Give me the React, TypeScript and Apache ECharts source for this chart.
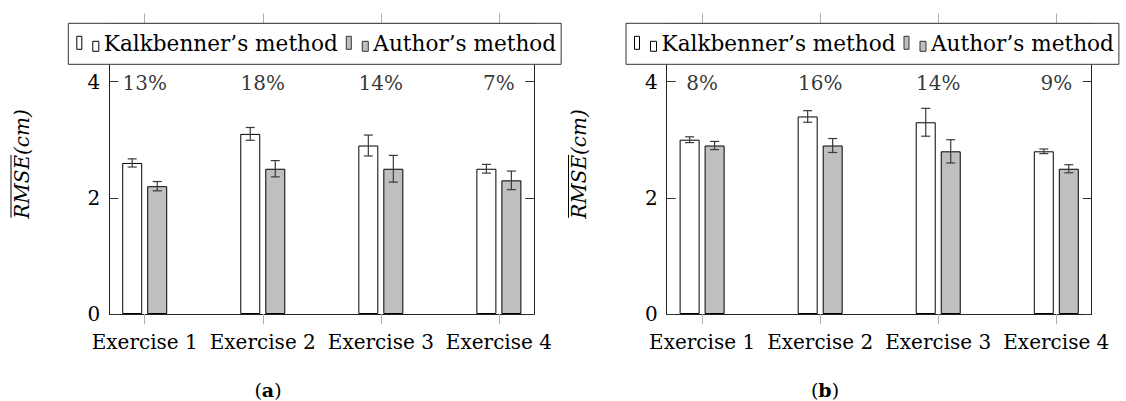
import React, { useEffect, useRef } from 'react';
import * as echarts from 'echarts';

const categories = ['Exercise 1', 'Exercise 2', 'Exercise 3', 'Exercise 4'];
const yTicks = [0, 2, 4];
const seriesNames = ['Kalkbenner’s method', 'Author’s method'];

const kalkA = [2.6, 3.1, 2.9, 2.5];
const kalkAErr = [0.07, 0.11, 0.18, 0.075];
const authA = [2.2, 2.5, 2.5, 2.3];
const authAErr = [0.08, 0.14, 0.23, 0.16];
const pctA = ['13%', '18%', '14%', '7%'];

const kalkB = [3.0, 3.4, 3.3, 2.8];
const kalkBErr = [0.05, 0.1, 0.24, 0.04];
const authB = [2.9, 2.9, 2.8, 2.5];
const authBErr = [0.07, 0.12, 0.2, 0.07];
const pctB = ['8%', '16%', '14%', '9%'];

const PCT_LEVEL = 4;

const FONT = "'DejaVu Serif', serif";
const FS = 20;
const LEG_FS = 21.6;
const BAR_W = 20;
const BAR_GAP = 5;
const OFF = (BAR_W + BAR_GAP) / 2;
const GRAY = '#bfbfbf';

const panels = [
  { key: 'a', kalk: kalkA, kalkErr: kalkAErr, auth: authA, authErr: authAErr, pct: pctA,
    gridLeft: 109.3, legendLeft: 68.3, titleX: 21.5, capX: 268 },
  { key: 'b', kalk: kalkB, kalkErr: kalkBErr, auth: authB, authErr: authBErr, pct: pctB,
    gridLeft: 666.7, legendLeft: 626, titleX: 579, capX: 825 },
];

function measure(text: string, font: string): number {
  const c = document.createElement('canvas').getContext('2d');
  if (!c) return text.length * 10;
  c.font = font;
  return c.measureText(text).width;
}

export default function App() {
  const ref = useRef<HTMLDivElement>(null);
  useEffect(() => {
    if (!ref.current) return;
    const chart = echarts.init(ref.current, undefined, { renderer: 'svg' });
    const tickVals = categories.map((_, i) => i + 1);
    const grid: any[] = [];
    const xAxis: any[] = [];
    const yAxis: any[] = [];
    const series: any[] = [];
    const legend: any[] = [];
    const graphic: any[] = [];
    const titleFont = `italic ${FS}px 'DejaVu Serif'`;
    const fullW = measure('RMSE(cm)', titleFont);
    const partW = measure('RMSE', titleFont);

    const errSeries = (vals: number[], errs: number[], off: number, idx: number) => ({
      type: 'custom',
      xAxisIndex: idx * 2,
      yAxisIndex: idx * 2,
      z: 5,
      silent: true,
      data: vals.map((v, i) => [i + 1, v, errs[i]]),
      renderItem: (params: any, api: any) => {
        const x = api.value(0);
        const v = api.value(1);
        const e = api.value(2);
        const hi = api.coord([x, v + e]);
        const lo = api.coord([x, v - e]);
        const cx = hi[0] + off;
        const st = { stroke: '#3a3a3a', lineWidth: 1.2 };
        return {
          type: 'group',
          children: [
            { type: 'line', shape: { x1: cx, y1: hi[1], x2: cx, y2: lo[1] }, style: st },
            { type: 'line', shape: { x1: cx - 4.5, y1: hi[1], x2: cx + 4.5, y2: hi[1] }, style: st },
            { type: 'line', shape: { x1: cx - 4.5, y1: lo[1], x2: cx + 4.5, y2: lo[1] }, style: st },
          ],
        };
      },
    });

    panels.forEach((p, idx) => {
      grid.push({ left: p.gridLeft, top: 23.5, width: 425, height: 290.5 });
      const axisLine = { show: true, onZero: false, lineStyle: { color: '#222', width: 1 } };
      xAxis.push({
        type: 'value', gridIndex: idx, min: 0.7, max: 4.3, position: 'bottom',
        axisLine,
        axisTick: { show: true, customValues: tickVals, length: 10, lineStyle: { color: '#b0b0b0' } },
        axisLabel: {
          customValues: tickVals, formatter: (v: number) => categories[Math.round(v) - 1],
          fontFamily: FONT, fontSize: FS, color: '#000', margin: 18,
        },
        splitLine: { show: false },
      });
      xAxis.push({
        type: 'value', gridIndex: idx, min: 0.7, max: 4.3, position: 'top',
        axisLine,
        axisTick: { show: true, customValues: tickVals, length: 10, lineStyle: { color: '#b0b0b0' } },
        axisLabel: { show: false },
        splitLine: { show: false },
      });
      yAxis.push({
        type: 'value', gridIndex: idx, min: 0, max: 5, position: 'left',
        axisLine,
        axisTick: { show: true, inside: true, length: 9, customValues: yTicks, lineStyle: { color: '#333' } },
        axisLabel: { customValues: yTicks, fontFamily: FONT, fontSize: FS, color: '#000', margin: 9 },
        splitLine: { show: false },
      });
      yAxis.push({
        type: 'value', gridIndex: idx, min: 0, max: 5, position: 'right',
        axisLine,
        axisTick: { show: true, inside: true, length: 9, customValues: yTicks, lineStyle: { color: '#333' } },
        axisLabel: { show: false },
        splitLine: { show: false },
      });
      series.push({
        type: 'bar', name: seriesNames[0], xAxisIndex: idx * 2, yAxisIndex: idx * 2,
        data: p.kalk.map((v, i) => [i + 1, v]), barWidth: BAR_W, barGap: `${(BAR_GAP / BAR_W) * 100}%`,
        itemStyle: { color: '#fff', borderColor: '#000', borderWidth: 1 }, silent: true,
      });
      series.push({
        type: 'bar', name: seriesNames[1], xAxisIndex: idx * 2, yAxisIndex: idx * 2,
        data: p.auth.map((v, i) => [i + 1, v]), barWidth: BAR_W, barGap: `${(BAR_GAP / BAR_W) * 100}%`,
        itemStyle: { color: GRAY, borderColor: '#000', borderWidth: 1 }, silent: true,
      });
      series.push(errSeries(p.kalk, p.kalkErr, -OFF, idx));
      series.push(errSeries(p.auth, p.authErr, OFF, idx));
      series.push({
        type: 'scatter', xAxisIndex: idx * 2, yAxisIndex: idx * 2, silent: true,
        data: p.pct.map((_, i) => [i + 1, PCT_LEVEL]),
        symbolSize: 1, itemStyle: { color: 'rgba(0,0,0,0)' },
        label: {
          show: true, position: 'inside', offset: [0, 1.5],
          formatter: (q: any) => p.pct[q.dataIndex],
          fontFamily: FONT, fontSize: FS, color: '#000',
        },
      });
      legend.push({
        left: p.legendLeft, top: 23.3, orient: 'horizontal', width: 700,
        itemWidth: 22, itemHeight: 15, itemGap: 8,
        padding: [8, 5, 8, 8], borderColor: '#333', borderWidth: 1, backgroundColor: '#fff',
        selectedMode: false, z: 10,
        textStyle: { fontFamily: FONT, fontSize: LEG_FS, color: '#000', lineHeight: 25 },
        data: [
          { name: seriesNames[0], icon: 'path://M0,0h5v13h-5z M16,5h6v10h-6z',
            itemStyle: { color: '#fff', borderColor: '#000', borderWidth: 1 } },
          { name: seriesNames[1], icon: 'path://M0,0h5v13h-5z M16,5h6v10h-6z',
            itemStyle: { color: GRAY, borderColor: '#333', borderWidth: 1 } },
        ],
      });
      graphic.push({
        type: 'group', x: p.titleX, y: 164, rotation: Math.PI / 2, silent: true,
        children: [
          { type: 'text', x: -fullW / 2, y: 0,
            style: { text: 'RMSE(cm)', font: titleFont, fill: '#000', align: 'left', verticalAlign: 'middle' } },
          { type: 'line', shape: { x1: -fullW / 2 + 1, y1: -10.5, x2: -fullW / 2 + partW, y2: -10.5 },
            style: { stroke: '#000', lineWidth: 1 } },
        ],
      });
      graphic.push({
        type: 'text', x: p.capX, y: 390, silent: true,
        style: {
          text: `{p|(}{b|${p.key}}{p|)}`, align: 'center', verticalAlign: 'middle',
          rich: {
            p: { fontFamily: FONT, fontSize: 19, fill: '#000', color: '#000' },
            b: { fontFamily: FONT, fontSize: 19, fontWeight: 'bold', fill: '#000', color: '#000' },
          },
        },
      });
    });

    chart.setOption({
      animation: false,
      backgroundColor: '#fff',
      grid, xAxis, yAxis, series, legend, graphic,
    });
    return () => chart.dispose();
  }, []);
  return (
    <div ref={ref} style={{ position: 'absolute', left: 0, top: 0, width: 1126, height: 401 }} />
  );
}
